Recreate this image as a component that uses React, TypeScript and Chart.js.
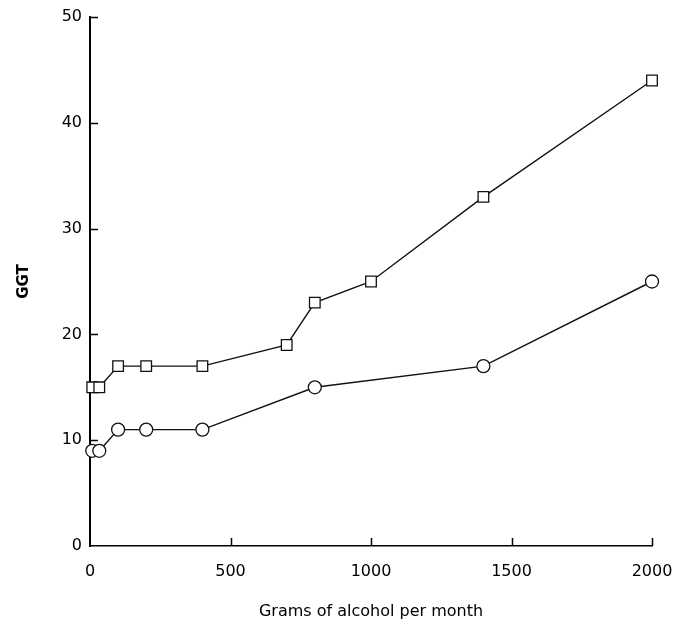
import React, { useEffect, useRef } from "react";
import { Chart, registerables } from "chart.js";

Chart.register(...registerables);

// Data
const squareX = [8, 33, 100, 200, 400, 700, 800, 1000, 1400, 2000];
const squareY = [15, 15, 17, 17, 17, 19, 23, 25, 33, 44];
const circleX = [8, 33, 100, 200, 400, 800, 1400, 2000];
const circleY = [9, 9, 11, 11, 11, 15, 17, 25];
const xTicks = [0, 500, 1000, 1500, 2000];
const yTicks = [0, 10, 20, 30, 40, 50];
const xTitle = "Grams of alcohol per month";
const yTitle = "GGT";

const FONT = "'DejaVu Sans', Verdana, sans-serif";

const inwardTicks = {
  id: "inwardTicks",
  afterDraw(chart: any) {
    const { ctx, scales } = chart;
    const x = scales.x;
    const y = scales.y;
    const len = 8;
    ctx.save();
    ctx.strokeStyle = "#000";
    ctx.lineWidth = 1.5;
    ctx.beginPath();
    xTicks.forEach((v) => {
      if (v === 0) return;
      const px = Math.round(x.getPixelForValue(v)) + 0.5;
      ctx.moveTo(px, y.bottom);
      ctx.lineTo(px, y.bottom - len);
    });
    yTicks.forEach((v) => {
      if (v === 0) return;
      const py = Math.round(y.getPixelForValue(v)) + 0.5;
      ctx.moveTo(x.left, py);
      ctx.lineTo(x.left + len, py);
    });
    ctx.stroke();
    ctx.restore();
  },
};

export default function App() {
  const ref = useRef<HTMLCanvasElement | null>(null);
  useEffect(() => {
    document.body.style.margin = "0";
    const canvas = ref.current!;
    const chart = new Chart(canvas, {
      type: "line",
      data: {
        datasets: [
          {
            data: squareX.map((v, i) => ({ x: v, y: squareY[i] })),
            borderColor: "#111",
            borderWidth: 1.4,
            pointStyle: "rect",
            pointRadius: 7.5,
            pointBorderWidth: 1.3,
            pointBackgroundColor: "#fff",
            pointBorderColor: "#111",
            fill: false,
            clip: false,
            tension: 0,
          } as any,
          {
            data: circleX.map((v, i) => ({ x: v, y: circleY[i] })),
            borderColor: "#111",
            borderWidth: 1.4,
            pointStyle: "circle",
            pointRadius: 6.5,
            pointBorderWidth: 1.3,
            pointBackgroundColor: "#fff",
            pointBorderColor: "#111",
            fill: false,
            clip: false,
            tension: 0,
          } as any,
        ],
      },
      plugins: [inwardTicks],
      options: {
        animation: false,
        responsive: false,
        layout: { padding: { top: 17, right: 26, left: 0, bottom: 0 } },
        plugins: { legend: { display: false }, tooltip: { enabled: false } },
        scales: {
          x: {
            type: "linear",
            min: 0,
            max: 2000,
            afterFit: (s: any) => {
              s.height = 77;
              s.paddingLeft = 0;
              s.paddingRight = 0;
            },
            afterBuildTicks: (s: any) => {
              s.ticks = xTicks.map((v) => ({ value: v }));
            },
            grid: { display: false, drawTicks: false },
            border: { display: true, color: "#000", width: 1.5 },
            ticks: {
              padding: 16,
              color: "#000",
              font: { family: FONT, size: 16 },
              maxRotation: 0,
              callback: (v: any) => String(v),
            },
            title: {
              display: true,
              text: xTitle,
              color: "#000",
              font: { family: FONT, size: 16 },
              padding: { top: 2, bottom: 2 },
            },
          },
          y: {
            type: "linear",
            min: 0,
            max: 50,
            afterFit: (s: any) => {
              s.width = 90;
              s.paddingTop = 0;
              s.paddingBottom = 0;
            },
            afterBuildTicks: (s: any) => {
              s.ticks = yTicks.map((v) => ({ value: v }));
            },
            grid: { display: false, drawTicks: false },
            border: { display: true, color: "#000", width: 2 },
            ticks: {
              padding: 8,
              color: "#000",
              font: { family: FONT, size: 16 },
              callback: (v: any) => String(v),
            },
            title: {
              display: true,
              text: yTitle,
              color: "#000",
              font: { family: FONT, size: 15, weight: "bold" },
              padding: { top: 15, bottom: 0 },
            },
          },
        },
      } as any,
    });
    return () => chart.destroy();
  }, []);
  return (
    <div style={{ width: 678, height: 623 }}>
      <canvas ref={ref} width={678} height={623} style={{ display: "block" }} />
    </div>
  );
}
